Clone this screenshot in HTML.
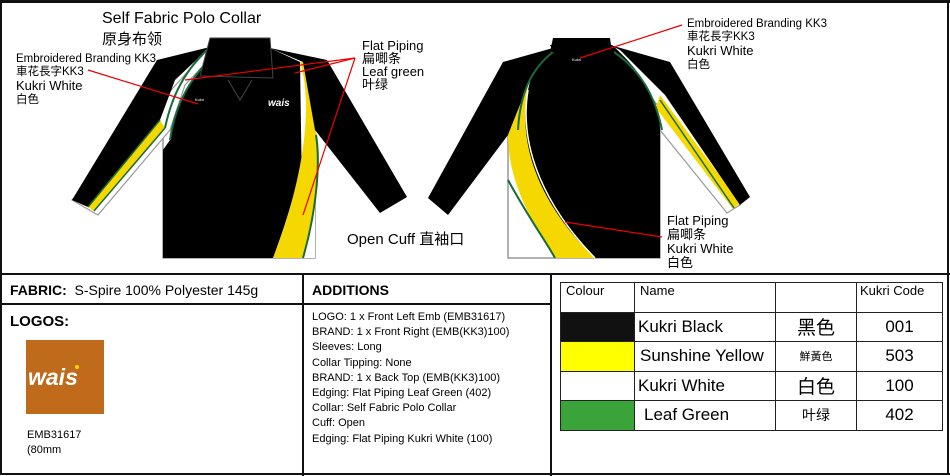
<!DOCTYPE html>
<html><head><meta charset="utf-8">
<style>
body{margin:0;width:950px;height:476px;background:#fff;position:relative;overflow:hidden;font-family:"Liberation Sans","Noto Sans CJK SC",sans-serif;color:#000}
.a{position:absolute;white-space:nowrap}
table{border-collapse:collapse;position:absolute;left:560px;top:282px}
td{border:1.5px solid #222;padding:0;font-size:17px;height:28.5px}
</style></head><body>
<svg width="950" height="476" style="position:absolute;left:0;top:0">
<rect x="1" y="1" width="947" height="473" fill="none" stroke="#111" stroke-width="2"/>
<line x1="0" y1="1.5" x2="950" y2="1.5" stroke="#111" stroke-width="3"/>
<line x1="0" y1="274" x2="950" y2="274" stroke="#111" stroke-width="2"/>
<line x1="303" y1="274" x2="303" y2="476" stroke="#111" stroke-width="2"/>
<line x1="551" y1="274" x2="551" y2="476" stroke="#111" stroke-width="2"/>
<line x1="0" y1="304" x2="551" y2="304" stroke="#111" stroke-width="2"/>
<line x1="0" y1="474" x2="950" y2="474" stroke="#111" stroke-width="2"/>
<!-- front shirt -->
<polygon points="163,130 163,258 315,258 315,130" fill="#fff" stroke="#999" stroke-width="1.5"/>
<polygon points="210,47 220,48 185,85 170,130 98,215 72,200" fill="#fff" stroke="#999" stroke-width="1.2"/>
<polygon points="88,207 160,120 165,128 94,211" fill="#f5d800"/>
<polygon points="157,60 210,47 175,80 160,120 88,207 72,200" fill="#000"/>
<line x1="88" y1="207" x2="160" y2="120" stroke="#1a6b3a" stroke-width="1.5"/>
<line x1="94" y1="211" x2="165" y2="128" stroke="#1a6b3a" stroke-width="1.5"/>
<path d="M210,47 C185,70 172,95 165,128" stroke="#1a6b3a" stroke-width="2" fill="none"/>
<path d="M222,48 C190,75 175,105 170,140 L163,150 L163,258 L273,258 C295,200 310,140 305,100 L300,62 L270,48 Z" fill="#000"/>
<path d="M222,48 C190,75 175,105 170,140" stroke="#1a6b3a" stroke-width="2" fill="none"/>
<path d="M300,62 C312,90 312,150 307,130 L315,135 L315,258 L303,258 Z" fill="#fff"/>
<path d="M300,62 C315,110 300,190 273,258 L303,258 C320,200 322,140 315,130 C318,110 312,80 305,62 Z" fill="#f5d800"/>
<path d="M303,258 C318,205 320,160 316,135" stroke="#1a6b3a" stroke-width="2" fill="none"/>
<polygon points="270,48 327,60 407,197 380,213 315,130 303,62" fill="#000"/>
<path d="M210,38 L270,38 L273,78 L200,76 Z" fill="#000" stroke="#444"/>
<path d="M228,80 L240,100 L252,80" stroke="#444" fill="none"/>
<text x="195" y="101" fill="#fff" font-size="4">Kukri</text>
<text x="268" y="106" fill="#fff" font-size="10" font-weight="bold" font-style="italic">wais</text>
<!-- back shirt -->
<polygon points="508,130 508,258 660,258 660,130" fill="#fff" stroke="#999" stroke-width="1.5"/>
<polygon points="612,50 660,125 660,130 727,213 740,205" fill="#fff" stroke="#999" stroke-width="1.2"/>
<polygon points="503,62 553,48 528,85 508,135 448,215 428,198" fill="#000"/>
<path d="M528,85 C516,150 545,210 595,258 L555,258 C530,220 508,180 508,135 Z" fill="#f5d800"/>
<path d="M508,180 C530,220 545,240 555,258" stroke="#1a6b3a" stroke-width="2" fill="none"/>
<path d="M550,45 L612,45 C640,70 660,100 660,130 L660,258 L595,258 C545,210 516,150 528,90 C532,72 540,60 553,50 Z" fill="#000"/>
<path d="M553,52 C530,70 520,95 518,130" stroke="#1a6b3a" stroke-width="2" fill="none"/>
<path d="M528,90 C518,150 548,210 595,258" stroke="#fff" stroke-width="1.5" fill="none"/>
<polygon points="660,95 740,203 733,209 656,108" fill="#f5d800"/>
<polygon points="610,45 670,62 750,197 740,205 665,95 620,50" fill="#000"/>
<line x1="660" y1="100" x2="734" y2="208" stroke="#1a6b3a" stroke-width="1.5"/>
<path d="M614,52 C640,70 655,95 662,130" stroke="#1a6b3a" stroke-width="2" fill="none"/>
<path d="M553,38 L610,38 L612,52 L550,52 Z" fill="#000"/>
<text x="572" y="61" fill="#fff" font-size="4">Kukri</text>
<!-- leader lines -->
<g stroke="#e00" stroke-width="1.2" fill="none">
<line x1="88" y1="70" x2="198" y2="104"/>
<line x1="355" y1="58" x2="185" y2="80"/>
<line x1="355" y1="58" x2="295" y2="73"/>
<line x1="355" y1="58" x2="303" y2="215"/>
<line x1="682" y1="25" x2="580" y2="58"/>
<line x1="662" y1="237" x2="565" y2="222"/>
</g>
<rect x="26" y="340" width="78" height="74" fill="#c06a1c"/>
<text x="28" y="385" fill="#fff" font-size="23" font-weight="bold" font-style="italic">wais</text>
<circle cx="77" cy="367" r="2" fill="#f5d800"/>
</svg>
<div class="a" style="left:102px;top:10px;font-size:16px">Self Fabric Polo Collar</div>
<div class="a" style="left:102px;top:28px;font-size:15px">原身布领</div>
<div class="a" style="left:16px;top:53px;font-size:11.5px;line-height:13px">Embroidered Branding KK3<br>車花長字KK3<br><span style="font-size:13px">Kukri White</span><br>白色</div>
<div class="a" style="left:362px;top:39px;font-size:13px;line-height:13px">Flat Piping<br>扁唧条<br>Leaf green<br>叶绿</div>
<div class="a" style="left:687px;top:18px;font-size:11.5px;line-height:13px">Embroidered Branding KK3<br>車花長字KK3<br><span style="font-size:13px">Kukri White</span><br>白色</div>
<div class="a" style="left:667px;top:214px;font-size:13px;line-height:14px">Flat Piping<br>扁唧条<br>Kukri White<br>白色</div>
<div class="a" style="left:347px;top:228px;font-size:15px">Open Cuff 直袖口</div>
<div class="a" style="left:10px;top:282px;font-size:14px"><b>FABRIC:</b>&nbsp; S-Spire 100% Polyester 145g</div>
<div class="a" style="left:312px;top:282px;font-size:14px;font-weight:bold">ADDITIONS</div>
<div class="a" style="left:10px;top:313px;font-size:15px;font-weight:bold">LOGOS:</div>
<div class="a" style="left:27px;top:428px;font-size:11px;line-height:15px">EMB31617<br>(80mm</div>
<div class="a" style="left:312px;top:310px;font-size:11px;line-height:15.2px">LOGO: 1 x Front Left Emb (EMB31617)<br>BRAND: 1 x Front Right (EMB(KK3)100)<br>Sleeves: Long<br>Collar Tipping: None<br>BRAND: 1 x Back Top (EMB(KK3)100)<br>Edging: Flat Piping Leaf Green (402)<br>Collar: Self Fabric Polo Collar<br>Cuff: Open<br>Edging: Flat Piping Kukri White (100)</div>
<table>
<tr><td style="font-size:13px;vertical-align:top;padding-left:5px;width:68px">Colour</td><td style="font-size:13px;vertical-align:top;padding-left:5px;width:135px">Name</td><td style="width:80px"></td><td style="font-size:13px;vertical-align:top;padding-left:3px;width:82px">Kukri Code</td></tr>
<tr><td style="background:#111"></td><td style="padding-left:3px">Kukri Black</td><td style="text-align:center;font-size:19px">黑色</td><td style="text-align:center">001</td></tr>
<tr><td style="background:#ffff00"></td><td style="padding-left:5px">Sunshine Yellow</td><td style="text-align:center;font-size:11px">鮮黃色</td><td style="text-align:center">503</td></tr>
<tr><td></td><td style="padding-left:3px">Kukri White</td><td style="text-align:center;font-size:19px">白色</td><td style="text-align:center">100</td></tr>
<tr><td style="background:#3aa33a"></td><td style="padding-left:9px">Leaf Green</td><td style="text-align:center;font-size:14px">叶绿</td><td style="text-align:center">402</td></tr>
</table>
</body></html>
